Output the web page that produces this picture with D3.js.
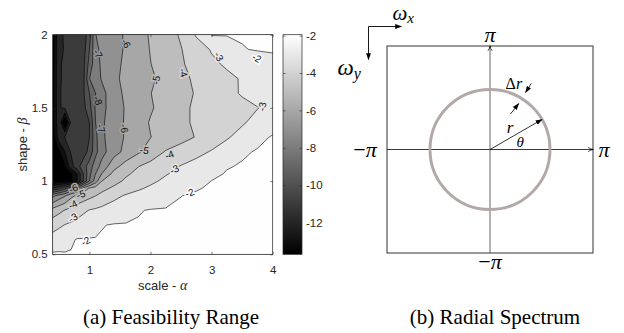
<!DOCTYPE html>
<html>
<head>
<meta charset="utf-8">
<script src="https://cdn.jsdelivr.net/npm/d3@7"></script>
<style>
  body { margin: 0; background: #fff; }
  svg { display: block; }
  .tick text { font-family: "Liberation Sans", Arial, sans-serif; fill: #262626; }
</style>
</head>
<body>
<svg id="fig" width="624" height="333"></svg>
<script>
// ---- panel (a): sampled surface, alpha columns x beta rows ----
const alphaGrid = [0.4, 0.5, 0.6, 0.7, 0.8, 0.9, 1.0, 1.1, 1.2, 1.4, 1.6, 1.8, 2.0, 2.25, 2.5, 2.75, 3.0, 3.25, 3.5, 3.75, 4.0];
const betaGrid = [0.5, 0.6, 0.7, 0.8, 0.9, 0.95, 1.0, 1.05, 1.1, 1.2, 1.3, 1.4, 1.5, 1.6, 1.7, 1.8, 1.9, 2.0];

// one row per beta, bottom (0.5) to top (2.0)
const feasRows = [
  [-1.90,-1.90,-1.95,-1.95,-1.95,-1.95,-1.95,-1.95,-1.95,-1.95,-1.95,-1.95,-1.95,-1.95,-1.95,-1.95,-1.95,-1.95,-1.95,-1.95,-1.95],
  [-2.60,-2.44,-2.28,-2.11,-1.95,-1.95,-1.95,-1.95,-1.95,-1.95,-1.95,-1.95,-1.95,-1.95,-1.95,-1.95,-1.95,-1.95,-1.95,-1.95,-1.95],
  [-3.40,-3.18,-2.97,-2.83,-2.69,-2.54,-2.40,-2.26,-2.03,-1.955,-1.95,-1.95,-1.95,-1.95,-1.95,-1.95,-1.95,-1.95,-1.95,-1.95,-1.95],
  [-4.60,-4.27,-3.95,-3.68,-3.42,-3.16,-2.96,-2.85,-2.74,-2.53,-2.32,-2.04,-1.96,-1.95,-1.95,-1.95,-1.95,-1.95,-1.95,-1.95,-1.95],
  [-7.30,-6.60,-6.10,-5.27,-4.81,-4.54,-4.27,-4.02,-3.75,-3.25,-2.90,-2.71,-2.51,-2.26,-2.005,-1.95,-1.95,-1.95,-1.95,-1.95,-1.95],
  [-11.0,-10.29,-9.33,-8.02,-7.17,-5.67,-4.83,-4.56,-4.28,-3.82,-3.46,-3.11,-2.86,-2.60,-2.35,-2.03,-1.95,-1.95,-1.95,-1.95,-1.95],
  [-13.70,-13.53,-13.36,-13.19,-12.02,-10.02,-8.02,-6.50,-5.02,-4.33,-3.83,-3.50,-3.17,-2.83,-2.56,-2.28,-1.99,-1.95,-1.95,-1.95,-1.95],
  [-13.70,-13.50,-13.30,-13.10,-12.02,-10.02,-8.29,-7.02,-6.02,-4.71,-4.14,-3.77,-3.45,-3.06,-2.77,-2.49,-2.15,-1.953,-1.95,-1.95,-1.95],
  [-13.70,-13.38,-13.06,-11.40,-10.38,-9.50,-8.50,-7.50,-6.67,-5.33,-4.57,-4.02,-3.69,-3.31,-2.95,-2.67,-2.40,-2.04,-1.95,-1.95,-1.95],
  [-13.70,-13.23,-12.02,-10.90,-10.70,-10.50,-9.71,-8.29,-7.38,-6.40,-5.71,-5.14,-4.57,-3.93,-3.60,-3.27,-2.93,-2.58,-2.08,-1.955,-1.95],
  [-13.50,-11.50,-10.93,-10.75,-10.58,-10.40,-10.02,-8.29,-7.20,-6.45,-5.89,-5.44,-5.02,-4.65,-4.31,-3.95,-3.52,-3.09,-2.69,-2.15,-1.953],
  [-13.50,-11.05,-14.00,-10.74,-10.57,-10.40,-10.02,-8.02,-7.17,-6.45,-5.88,-5.38,-4.93,-4.55,-4.18,-3.87,-3.61,-3.36,-3.10,-2.72,-2.25],
  [-13.50,-11.05,-10.91,-10.73,-10.55,-10.31,-9.40,-7.88,-7.29,-6.50,-5.90,-5.50,-5.10,-4.64,-4.18,-3.87,-3.66,-3.45,-3.24,-3.03,-2.70],
  [-13.50,-11.05,-10.90,-10.70,-10.50,-10.15,-9.02,-8.02,-7.33,-6.40,-5.80,-5.40,-5.02,-4.64,-4.29,-3.93,-3.58,-3.24,-2.92,-2.66,-2.40],
  [-13.50,-11.05,-10.93,-10.74,-10.55,-10.29,-8.02,-7.44,-6.93,-6.19,-5.77,-5.46,-5.15,-4.71,-4.23,-3.84,-3.53,-3.22,-2.92,-2.64,-2.35],
  [-13.60,-11.05,-10.94,-10.75,-10.55,-10.31,-8.67,-7.38,-6.86,-6.29,-5.80,-5.40,-5.02,-4.55,-4.11,-3.65,-3.19,-2.86,-2.62,-2.39,-2.15],
  [-13.60,-11.10,-10.97,-10.81,-10.66,-10.50,-9.02,-7.22,-6.81,-6.35,-5.88,-5.42,-4.96,-4.50,-4.04,-3.47,-2.92,-2.54,-2.03,-1.955,-1.95],
  [-13.60,-11.10,-10.95,-10.80,-10.65,-10.50,-9.50,-7.02,-6.78,-6.33,-5.88,-5.38,-4.90,-4.41,-3.89,-2.90,-1.95,-1.95,-1.95,-1.95,-1.95]
];

const levels = [-13, -12, -11, -10, -9, -8, -7, -6, -5, -4, -3, -2];
const colorRange = [-13.7, -1.95];
const xTicks = [1, 2, 3, 4];
const yTicks = [0.5, 1, 1.5, 2];
const cbTicks = [-2, -4, -6, -8, -10, -12];

// inline contour labels
const labelLevel = [-2, -2, -3, -4, -3, -4, -5, -3, -3, -2, -4, -5, -6, -7, -8, -7, -6, -6, -5];
const labelAlpha = [0.94, 2.64, 0.73, 0.73, 2.39, 2.31, 1.90, 3.83, 3.12, 3.74, 2.54, 2.09, 1.60, 1.14, 1.14, 1.19, 1.57, 0.74, 0.86];
const labelBeta  = [0.59, 0.92, 0.75, 0.84, 1.08, 1.18, 1.21, 1.51, 1.85, 1.84, 1.74, 1.69, 1.94, 1.87, 1.55, 1.36, 1.36, 0.95, 0.91];
const labelRot   = [-28, -20, -30, -25, -25, -20, 10, -80, 60, 30, 75, -80, 60, 60, 70, 75, 80, -20, -20];

// ---- panel (b): radial spectrum sketch (frequency units) ----
const freqDomain = [-Math.PI, Math.PI];
const ringRadius = 1.83;
const ringWidth = 0.09;
const thetaDeg = 30;
const deltaDeg = 58;

const svg = d3.select("#fig");
const sans = '"Liberation Sans", Arial, sans-serif';
const serif = '"Liberation Serif", "Times New Roman", serif';
const axisColor = "#262626";

// ================= panel (a) =================
const box = { left: 52.7, right: 272.7, top: 34.7, bottom: 254.3 };
const x = d3.scaleLinear().domain([0.4, 4]).range([box.left, box.right]);
const y = d3.scaleLinear().domain([0.5, 2]).range([box.bottom, box.top]);
const gray = d3.scaleLinear().domain(colorRange).range(["#000000", "#ffffff"]).clamp(true);

const nx = alphaGrid.length, ny = betaGrid.length;
const values = feasRows.flat();
const colToAlpha = d3.scaleLinear().domain(d3.range(nx)).range(alphaGrid);
const rowToBeta = d3.scaleLinear().domain(d3.range(ny)).range(betaGrid);

// d3.contours puts sample i at grid coordinate i + 0.5
const gridProj = d3.geoTransform({
  point(gx, gy) {
    this.stream.point(x(colToAlpha(gx - 0.5)), y(rowToBeta(gy - 0.5)));
  }
});
const path = d3.geoPath(gridProj);

const bands = d3.contours()
  .size([nx, ny])
  .thresholds([-20].concat(levels))(values);

svg.append("clipPath").attr("id", "plotClip")
  .append("rect")
  .attr("x", box.left).attr("y", box.top)
  .attr("width", box.right - box.left).attr("height", box.bottom - box.top);

const plotG = svg.append("g").attr("clip-path", "url(#plotClip)");

plotG.selectAll("path.band")
  .data(bands)
  .join("path")
  .attr("class", "band")
  .attr("d", path)
  .attr("fill", d => gray(d.value))
  .attr("stroke", "none");

plotG.selectAll("path.iso")
  .data(bands.filter(d => d.value > -20))
  .join("path")
  .attr("class", "iso")
  .attr("d", path)
  .attr("fill", "none")
  .attr("stroke", "#000")
  .attr("stroke-width", 0.6)
  .attr("stroke-linejoin", "round");

plotG.selectAll("text.clabel")
  .data(d3.range(labelLevel.length))
  .join("text")
  .attr("class", "clabel")
  .attr("transform", i => `translate(${x(labelAlpha[i])},${y(labelBeta[i])}) rotate(${labelRot[i]})`)
  .attr("text-anchor", "middle")
  .attr("dy", "0.35em")
  .attr("font-family", sans)
  .attr("font-size", 10)
  .attr("fill", "#111")
  .attr("stroke", i => gray(labelLevel[i]))
  .attr("stroke-width", 3)
  .attr("paint-order", "stroke")
  .text(i => labelLevel[i]);

// axes with inward ticks on all four sides
const tickLen = 2.5;
svg.append("g")
  .attr("transform", `translate(0,${box.bottom})`)
  .call(d3.axisBottom(x).tickValues(xTicks).tickSize(-tickLen).tickPadding(12).tickFormat(d3.format("d")))
  .call(g => g.select(".domain").remove());
svg.append("g")
  .attr("transform", `translate(0,${box.top})`)
  .call(d3.axisTop(x).tickValues(xTicks).tickSize(-tickLen).tickFormat(""))
  .call(g => g.select(".domain").remove());
svg.append("g")
  .attr("transform", `translate(${box.left},0)`)
  .call(d3.axisLeft(y).tickValues(yTicks).tickSize(-tickLen).tickPadding(5).tickFormat(d => d))
  .call(g => g.select(".domain").remove());
svg.append("g")
  .attr("transform", `translate(${box.right},0)`)
  .call(d3.axisRight(y).tickValues(yTicks).tickSize(-tickLen).tickFormat(""))
  .call(g => g.select(".domain").remove());

svg.selectAll(".tick line").attr("stroke", axisColor).attr("stroke-width", 0.6);
svg.selectAll(".tick text").attr("font-size", 11.5);

svg.append("rect")
  .attr("x", box.left).attr("y", box.top)
  .attr("width", box.right - box.left).attr("height", box.bottom - box.top)
  .attr("fill", "none").attr("stroke", axisColor).attr("stroke-width", 0.7);

// axis titles
const xTitle = svg.append("text")
  .attr("x", (box.left + box.right) / 2).attr("y", 290)
  .attr("text-anchor", "middle")
  .attr("font-family", sans).attr("font-size", 13).attr("fill", axisColor);
xTitle.append("tspan").text("scale - ");
xTitle.append("tspan").attr("font-family", serif).attr("font-style", "italic").attr("font-size", 14).text("α");

const yTitle = svg.append("text")
  .attr("transform", `translate(27,${(box.top + box.bottom) / 2}) rotate(-90)`)
  .attr("text-anchor", "middle")
  .attr("font-family", sans).attr("font-size", 13).attr("fill", axisColor);
yTitle.append("tspan").text("shape - ");
yTitle.append("tspan").attr("font-family", serif).attr("font-style", "italic").attr("font-size", 14).text("β");

// colorbar
const cb = { left: 283, right: 302 };
const cbScale = d3.scaleLinear().domain(colorRange).range([box.bottom, box.top]);
const grad = svg.append("defs").append("linearGradient")
  .attr("id", "cbGrad").attr("x1", 0).attr("y1", 1).attr("x2", 0).attr("y2", 0);
grad.append("stop").attr("offset", 0).attr("stop-color", gray(colorRange[0]));
grad.append("stop").attr("offset", 1).attr("stop-color", gray(colorRange[1]));

svg.append("rect")
  .attr("x", cb.left).attr("y", box.top)
  .attr("width", cb.right - cb.left).attr("height", box.bottom - box.top)
  .attr("fill", "url(#cbGrad)");
svg.append("g")
  .attr("transform", `translate(${cb.right},0)`)
  .call(d3.axisRight(cbScale).tickValues(cbTicks).tickSize(-tickLen).tickPadding(4))
  .call(g => g.select(".domain").remove())
  .call(g => g.selectAll("line").attr("stroke", axisColor).attr("stroke-width", 0.6))
  .call(g => g.selectAll("text").attr("font-size", 11.5).text(d => d));
svg.append("g")
  .attr("transform", `translate(${cb.left},0)`)
  .call(d3.axisLeft(cbScale).tickValues(cbTicks).tickSize(-tickLen).tickFormat(""))
  .call(g => g.select(".domain").remove())
  .call(g => g.selectAll("line").attr("stroke", axisColor).attr("stroke-width", 0.6));
svg.append("rect")
  .attr("x", cb.left).attr("y", box.top)
  .attr("width", cb.right - cb.left).attr("height", box.bottom - box.top)
  .attr("fill", "none").attr("stroke", axisColor).attr("stroke-width", 0.7);

// ================= panel (b) =================
const wx = d3.scaleLinear().domain(freqDomain).range([387, 593]);
const wy = d3.scaleLinear().domain(freqDomain).range([253, 46]);
const cx = wx(0), cy = wy(0);
const unit = wx(1) - wx(0);
const polar = (r, deg) => [cx + r * unit * Math.cos(deg * Math.PI / 180), cy - r * unit * Math.sin(deg * Math.PI / 180)];

const defs = svg.append("defs");
defs.append("marker")
  .attr("id", "head").attr("viewBox", "0 0 10 10")
  .attr("refX", 9).attr("refY", 5)
  .attr("markerWidth", 7).attr("markerHeight", 7)
  .attr("markerUnits", "userSpaceOnUse")
  .attr("orient", "auto")
  .append("path").attr("d", "M0,1.5 L10,5 L0,8.5 Z").attr("fill", "#000");
defs.append("marker")
  .attr("id", "thinHead").attr("viewBox", "0 0 10 10")
  .attr("refX", 9).attr("refY", 5)
  .attr("markerWidth", 6).attr("markerHeight", 6)
  .attr("markerUnits", "userSpaceOnUse")
  .attr("orient", "auto")
  .append("path").attr("d", "M1,1.5 Q5,4.5 9.5,5 Q5,5.5 1,8.5").attr("fill", "none").attr("stroke", "#000").attr("stroke-width", 1.2);

const pb = svg.append("g");
pb.append("rect")
  .attr("x", wx(-Math.PI)).attr("y", wy(Math.PI))
  .attr("width", wx(Math.PI) - wx(-Math.PI)).attr("height", wy(-Math.PI) - wy(Math.PI))
  .attr("fill", "none").attr("stroke", "#333").attr("stroke-width", 1);

pb.append("line")
  .attr("x1", wx(-Math.PI)).attr("y1", cy).attr("x2", wx(Math.PI)).attr("y2", cy)
  .attr("stroke", "#222").attr("stroke-width", 0.9).attr("marker-end", "url(#thinHead)");
pb.append("line")
  .attr("x1", cx).attr("y1", wy(-Math.PI)).attr("x2", cx).attr("y2", wy(Math.PI))
  .attr("stroke", "#555").attr("stroke-width", 0.9).attr("marker-end", "url(#thinHead)");

pb.append("circle")
  .attr("cx", cx).attr("cy", cy).attr("r", ringRadius * unit)
  .attr("fill", "none").attr("stroke", "#b3a8a8").attr("stroke-width", ringWidth * unit);

const rEnd = polar(ringRadius, thetaDeg);
pb.append("line")
  .attr("x1", cx).attr("y1", cy).attr("x2", rEnd[0]).attr("y2", rEnd[1])
  .attr("stroke", "#000").attr("stroke-width", 0.8).attr("marker-end", "url(#head)");

const outerA = polar(2.38, deltaDeg), outerB = polar(2.05, deltaDeg);
const innerA = polar(1.25, deltaDeg + 2), innerB = polar(1.65, deltaDeg);
[[outerA, outerB], [innerA, innerB]].forEach(([a, b]) => {
  pb.append("line")
    .attr("x1", a[0]).attr("y1", a[1]).attr("x2", b[0]).attr("y2", b[1])
    .attr("stroke", "#000").attr("stroke-width", 0.8).attr("marker-end", "url(#head)");
});

function mathText(pos, str, size, anchor, italic) {
  return pb.append("text")
    .attr("x", pos[0]).attr("y", pos[1])
    .attr("text-anchor", anchor || "middle")
    .attr("dy", "0.32em")
    .attr("font-family", serif)
    .attr("font-style", italic ? "italic" : "normal")
    .attr("font-size", size)
    .attr("fill", "#000")
    .text(str);
}
mathText(polar(0.9, 47), "r", 17, "middle", true);
mathText(polar(0.95, 14), "θ", 15, "middle", true);
const dr = mathText(polar(2.13, 70), "", 16, "middle", false);
dr.append("tspan").text("Δ");
dr.append("tspan").attr("font-style", "italic").text("r");

// pi tick labels
const piLab = (px, py, neg) => {
  const t = pb.append("text").attr("x", px).attr("y", py)
    .attr("text-anchor", "middle").attr("dy", "0.32em")
    .attr("font-family", serif).attr("font-size", 22).attr("fill", "#000");
  if (neg) t.append("tspan").text("\u2212");
  t.append("tspan").attr("font-style", "italic").text("π");
};
piLab(cx, wy(Math.PI) - 11, false);
piLab(cx, wy(-Math.PI) + 9, true);
piLab(wx(-Math.PI) - 22, cy, true);
piLab(wx(Math.PI) + 11, cy, false);

// orientation key
const key = { x: wx(-Math.PI) - 18.5, y: wy(Math.PI) - 19.5, len: 33 };
pb.append("line")
  .attr("x1", key.x).attr("y1", key.y).attr("x2", key.x + key.len).attr("y2", key.y)
  .attr("stroke", "#000").attr("stroke-width", 0.9).attr("marker-end", "url(#head)");
pb.append("line")
  .attr("x1", key.x).attr("y1", key.y).attr("x2", key.x).attr("y2", key.y + key.len)
  .attr("stroke", "#000").attr("stroke-width", 0.9).attr("marker-end", "url(#head)");

const wxLab = pb.append("text").attr("x", key.x + 24).attr("y", key.y - 7)
  .attr("font-family", serif).attr("font-style", "italic").attr("font-size", 21).attr("fill", "#000");
wxLab.append("tspan").text("ω");
wxLab.append("tspan").attr("font-size", 15).attr("dy", 3).text("x");
const wyLab = pb.append("text").attr("x", key.x - 31).attr("y", key.y + 48)
  .attr("font-family", serif).attr("font-style", "italic").attr("font-size", 23).attr("fill", "#000");
wyLab.append("tspan").text("ω");
wyLab.append("tspan").attr("font-size", 16).attr("dy", 4).text("y");

// ================= captions =================
svg.append("text").attr("x", 171).attr("y", 324)
  .attr("text-anchor", "middle").attr("font-family", serif).attr("font-size", 21).attr("fill", "#000")
  .text("(a) Feasibility Range");
svg.append("text").attr("x", 495).attr("y", 324)
  .attr("text-anchor", "middle").attr("font-family", serif).attr("font-size", 21).attr("fill", "#000")
  .text("(b) Radial Spectrum");
</script>
</body>
</html>
